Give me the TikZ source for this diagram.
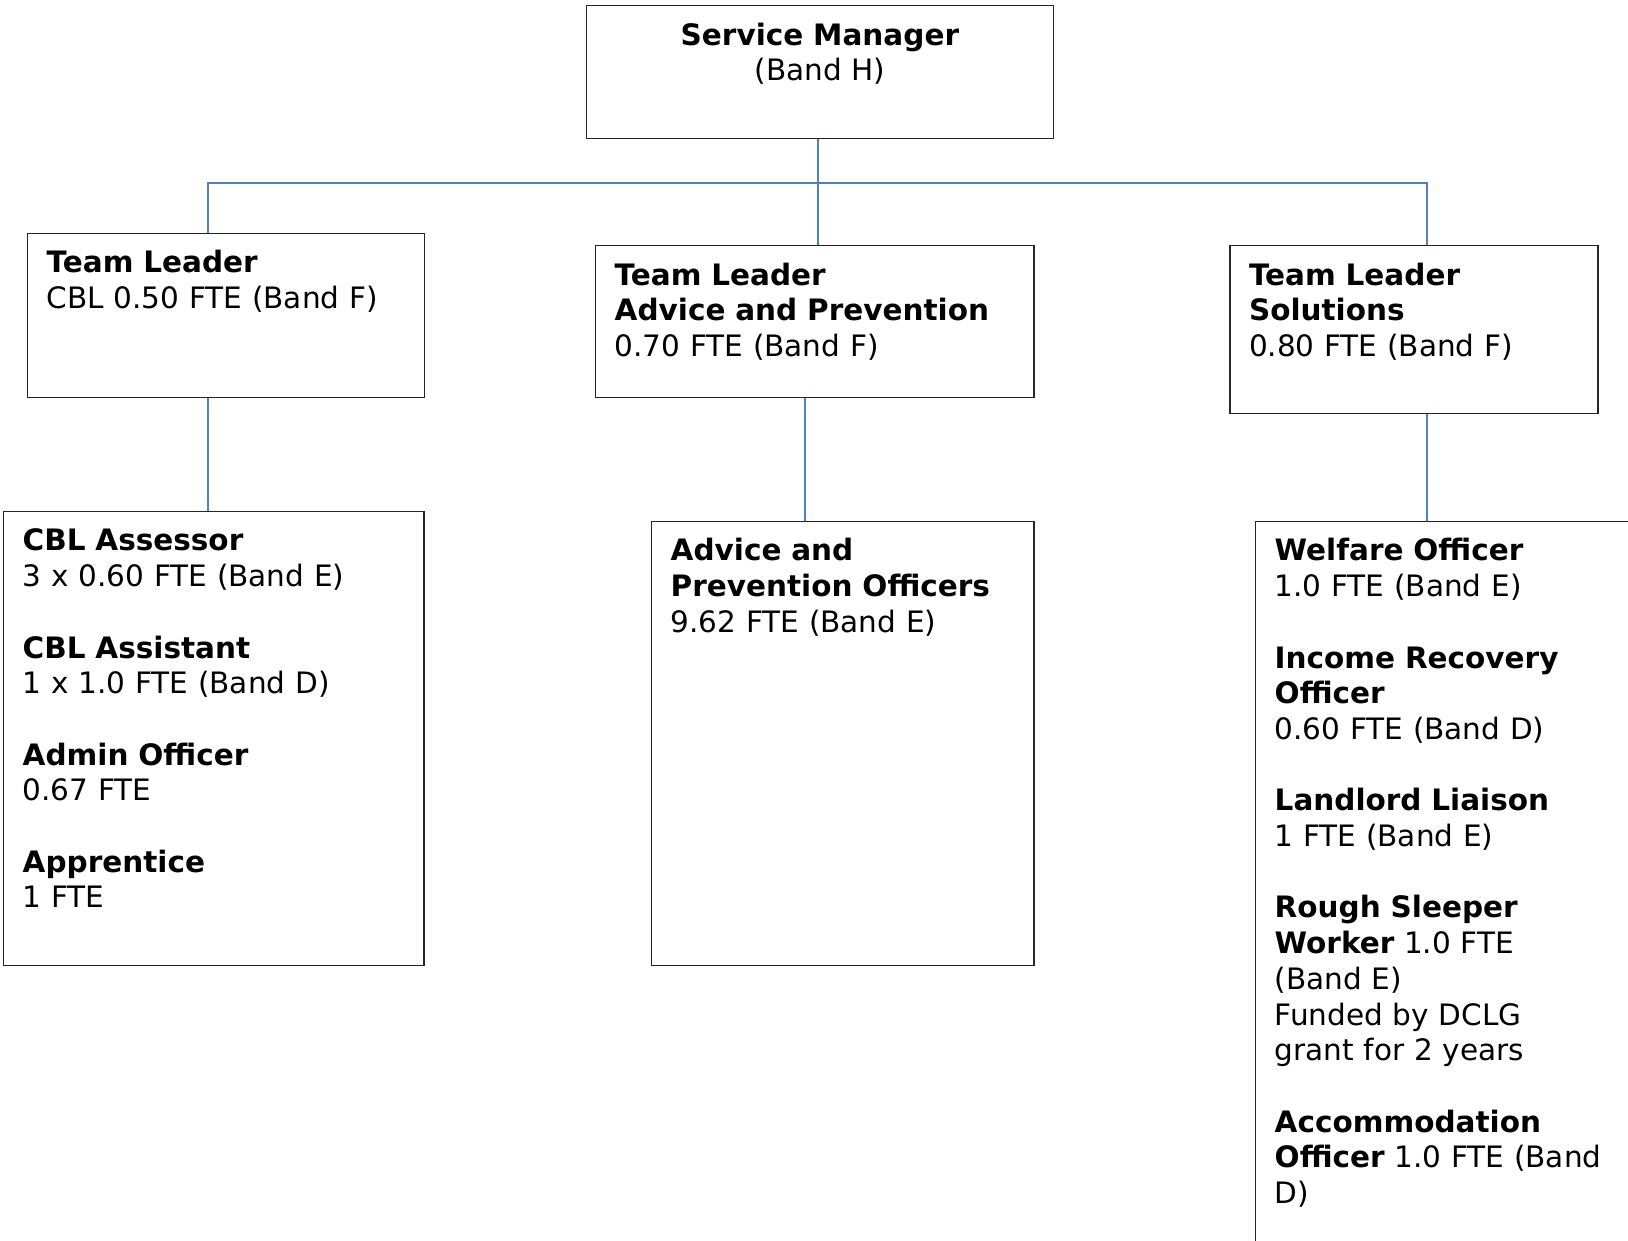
\documentclass[tikz,border=0pt]{standalone}
\usepackage{fontspec}
\setmainfont{DejaVu Sans}
\usetikzlibrary{positioning}
\definecolor{linkblue}{RGB}{79,129,189}
\newcommand{\emptyline}{\\[35.7pt]}

\begin{document}
\begin{tikzpicture}[x=1pt, y=-1pt,
    font=\fontsize{29.5}{35.7}\selectfont,
    post/.style={draw=black!85, line width=1.4pt, anchor=north west, align=left,
                 inner xsep=19pt, inner ysep=17.5pt, text height=22pt},
    link/.style={draw=linkblue, line width=2pt},]
    \path[use as bounding box] (0,0) rectangle (1628,1240);
    \clip (0,0) rectangle (1628,1240);
    % nodes
    \node[post, align=center, text width=429.2pt, text depth=76pt]  (sm)  at (585.6,5)     {\textbf{Service Manager}\\(Band H)};
    \node[post, text width=358.6pt, text depth=106.8pt]             (tl1) at (27,232.7)    {\textbf{Team Leader}\\CBL 0.50 FTE (Band F)};
    \node[post, text width=400.4pt, text depth=94.7pt]              (tl2) at (595,245)     {\textbf{Team Leader}\\\textbf{Advice and Prevention}\\0.70 FTE (Band F)};
    \node[post, text width=330pt, text depth=110.5pt]               (tl3) at (1229.3,245)  {\textbf{Team Leader}\\\textbf{Solutions}\\0.80 FTE (Band F)};
    \node[post, text width=382.4pt, text depth=397pt]               (cbl) at (3,510.7)     {\textbf{CBL Assessor}\\3 x 0.60 FTE (Band E)\emptyline
        \textbf{CBL Assistant}\\1 x 1.0 FTE (Band D)\emptyline
        \textbf{Admin Officer}\\0.67 FTE\emptyline
        \textbf{Apprentice}\\1 FTE};
    \node[post, text width=344.3pt, text depth=387pt]               (ap)  at (651,520.7)   {\textbf{Advice and}\\\textbf{Prevention Officers}\\9.62 FTE (Band E)};
    \node[post, text width=382pt, text depth=703pt]                 (sol) at (1255,520.7)  {\textbf{Welfare Officer}\\1.0 FTE (Band E)\emptyline
        \textbf{Income Recovery}\\\textbf{Officer}\\0.60 FTE (Band D)\emptyline
        \textbf{Landlord Liaison}\\1 FTE (Band E)\emptyline
        \textbf{Rough Sleeper}\\\textbf{Worker} 1.0 FTE\\(Band E)\\Funded by DCLG\\grant for 2 years\emptyline
        \textbf{Accommodation}\\\textbf{Officer} 1.0 FTE (Band\\D)};
    % drop points
    \coordinate (j1) at (207.5,182.5);
    \coordinate (j2) at (817.5,182.5);
    \coordinate (j3) at (1427.3,182.5);
    \coordinate (k2) at (805,0);
    % lines
    \draw[link] (j1 |- tl1.north) -- (j1) -- (j3) -- (j3 |- tl3.north);
    \draw[link] (j2 |- sm.south) -- (j2 |- tl2.north);
    \draw[link] (j1 |- tl1.south) -- (j1 |- cbl.north);
    \draw[link] (k2 |- tl2.south) -- (k2 |- ap.north);
    \draw[link] (j3 |- tl3.south) -- (j3 |- sol.north);
\end{tikzpicture}
\end{document}
